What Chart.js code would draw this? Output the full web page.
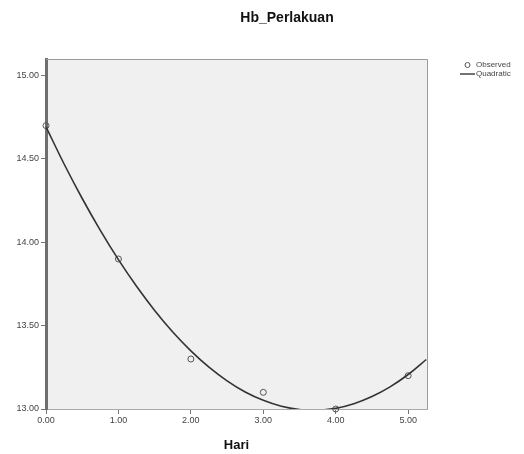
<!DOCTYPE html>
<html>
<head>
<meta charset="utf-8">
<script src="https://cdn.jsdelivr.net/npm/chart.js@4"></script>
<style>
  html, body { margin: 0; padding: 0; background: #fff; }
  #wrap { width: 524px; height: 454px; }
</style>
</head>
<body>
<div id="wrap"><canvas id="hbChart" width="524" height="454"></canvas></div>
<script>
// observed values (Hari vs Hb)
const hari = [0, 1, 2, 3, 4, 5];
const hbObserved = [14.7, 13.9, 13.3, 13.1, 13.0, 13.2];

// quadratic curve
const curveX = [0, 0.25, 0.5, 0.75, 1, 1.25, 1.5, 1.75, 2, 2.25, 2.5, 2.75, 3, 3.25, 3.5, 3.75, 4, 4.25, 4.5, 4.75, 5, 5.25];
const curveY = [14.693, 14.470, 14.263, 14.072, 13.896, 13.736, 13.591, 13.462, 13.349, 13.251, 13.169, 13.102,
  13.052, 13.016, 12.997, 12.993, 13.004, 13.032, 13.075, 13.133, 13.207, 13.297];

const xTicks = [0, 1, 2, 3, 4, 5];
const yTicks = [13, 13.5, 14, 14.5, 15];

const FONT = '"Liberation Sans", Arial, sans-serif';

const frame = {
  id: 'frame',
  beforeDraw(chart) {
    const { ctx, chartArea: a } = chart;
    ctx.save();
    ctx.fillStyle = '#f0f0f0';
    ctx.fillRect(a.left, a.top, a.right - a.left, a.bottom - a.top);
    ctx.restore();
  },
  afterDraw(chart) {
    const { ctx, chartArea: a } = chart;
    ctx.save();
    ctx.strokeStyle = '#9a9a9a';
    ctx.lineWidth = 1;
    ctx.beginPath();
    ctx.moveTo(a.left, a.top + 0.5);
    ctx.lineTo(a.right + 0.5, a.top + 0.5);
    ctx.lineTo(a.right + 0.5, a.bottom);
    ctx.stroke();

    // title
    ctx.fillStyle = '#111';
    ctx.font = 'bold 14px ' + FONT;
    ctx.textAlign = 'center';
    ctx.textBaseline = 'middle';
    ctx.fillText('Hb_Perlakuan', 287, 18);

    // legend
    ctx.font = '8px ' + FONT;
    ctx.textAlign = 'left';
    ctx.fillStyle = '#444';
    ctx.strokeStyle = '#555';
    ctx.beginPath();
    ctx.arc(467.5, 65, 2.5, 0, Math.PI * 2);
    ctx.stroke();
    ctx.fillText('Observed', 476, 65);
    ctx.strokeStyle = '#444';
    ctx.lineWidth = 1.5;
    ctx.beginPath();
    ctx.moveTo(460, 74);
    ctx.lineTo(475, 74);
    ctx.stroke();
    ctx.fillText('Quadratic', 476, 74);
    ctx.restore();
  }
};

new Chart(document.getElementById('hbChart'), {
  type: 'scatter',
  data: {
    datasets: [
      {
        label: 'Quadratic',
        type: 'line',
        data: curveX.map((x, i) => ({ x, y: curveY[i] })),
        borderColor: '#333',
        borderWidth: 1.6,
        pointRadius: 0,
        tension: 0.4,
        fill: false,
        clip: 0
      },
      {
        label: 'Observed',
        data: hari.map((x, i) => ({ x, y: hbObserved[i] })),
        pointStyle: 'circle',
        pointRadius: 3,
        borderColor: '#555',
        borderWidth: 1,
        backgroundColor: 'rgba(0,0,0,0)',
        clip: false
      }
    ]
  },
  options: {
    responsive: false,
    animation: false,
    layout: { padding: { top: 59, right: 97, left: 0, bottom: 0 } },
    plugins: { legend: { display: false }, tooltip: { enabled: false } },
    scales: {
      x: {
        type: 'linear',
        min: 0,
        max: 5.26,
        afterBuildTicks: s => { s.ticks = xTicks.map(v => ({ value: v })); },
        afterFit: s => { s.height = 45; },
        ticks: {
          callback: v => v.toFixed(2),
          font: { family: FONT, size: 9 },
          color: '#444',
          padding: 1,
          maxRotation: 0
        },
        grid: { drawOnChartArea: false, tickLength: 5, color: '#777' },
        border: { color: '#aaa', width: 1 },
        title: {
          display: true,
          text: 'Hari',
          font: { family: FONT, size: 13, weight: 'bold' },
          color: '#111',
          padding: { top: 2, bottom: 1 }
        }
      },
      y: {
        type: 'linear',
        min: 13,
        max: 15.1,
        afterBuildTicks: s => { s.ticks = yTicks.map(v => ({ value: v })); },
        afterFit: s => { s.width = 46; },
        ticks: {
          callback: v => v.toFixed(2),
          font: { family: FONT, size: 9 },
          color: '#444',
          padding: 2
        },
        grid: { drawOnChartArea: false, tickLength: 5, color: '#777' },
        border: { color: '#6e6e6e', width: 3 }
      }
    }
  },
  plugins: [frame]
});
</script>
</body>
</html>
